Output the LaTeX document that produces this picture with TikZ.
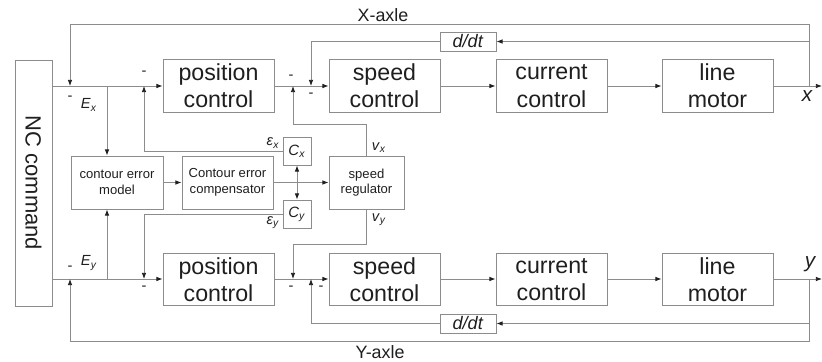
\documentclass[tikz,border=0pt]{standalone}
\usepackage{fontspec}
\setmainfont{Liberation Sans}
\usepackage{tikz}
\usepackage{xcolor}
\definecolor{wire}{gray}{0.55}
\definecolor{ink}{gray}{0.12}
\tikzset{
  every node/.style={
    text=ink
  },
  block/.style={draw=wire, line width=.6pt, inner sep=0pt, align=center,
    minimum width=83.25pt, minimum height=39.4pt,
    font=\fontsize{17.4}{20.5}\selectfont},
  minor/.style={draw=wire, line width=.6pt, inner sep=0pt, align=center,
    minimum height=39.75pt, font=\fontsize{9.8}{11.6}\selectfont},
  gain/.style={draw=wire, line width=.6pt, inner sep=0pt,
    minimum size=21pt, font=\fontsize{11.2}{13}\selectfont},
  ddt/.style={draw=wire, line width=.6pt, inner sep=0pt,
    minimum width=42pt, minimum height=14.25pt, font=\fontsize{13.6}{15}\selectfont},
  lbl/.style={inner sep=0pt, font=\fontsize{11}{13}\selectfont},
  arr/.style={draw=wire, line width=.6pt, -{Latex[length=4.6pt,width=3.4pt,color=ink]}},
  dbl/.style={draw=wire, line width=.6pt, {Latex[length=4.6pt,width=3.4pt,color=ink]}-{Latex[length=4.6pt,width=3.4pt,color=ink]}}
}
\usetikzlibrary{arrows.meta}

\begin{document}
\begin{tikzpicture}[x=0.75pt, y=-0.75pt]
    %\draw[gray, very thin] (0,0) grid[step=20] (822,361);
    \useasboundingbox (0,0) rectangle (822,361);

    \node[draw=wire, line width=.6pt, rotate=-90, minimum width=184.5pt, minimum height=27.75pt,
      inner sep=0pt, font=\fontsize{16.5}{18}\selectfont] (nc) at (33.5,183) {NC command};

    \node[block] (posx) at (218.5,86) {position\\control};
    \node[block] (spdx) at (384.5,86) {speed\\control};
    \node[block] (curx) at (551.5,86) {current\\control};
    \node[block] (motx) at (717.5,86) {line\\motor};
    \node[block] (posy) at (218.5,279.5) {position\\control};
    \node[block] (spdy) at (384.5,279.5) {speed\\control};
    \node[block] (cury) at (551.5,279.5) {current\\control};
    \node[block] (moty) at (717.5,279.5) {line\\motor};

    \node[minor, minimum width=69pt] (model) at (117,182.5) {contour error\\model};
    \node[minor, minimum width=68.25pt] (comp) at (227.5,182.5) {Contour error\\compensator};
    \node[minor, minimum width=56.25pt] (reg) at (366.5,182.5) {speed\\regulator};
    \node[gain] (cx) at (297,151) {\textit{C}\textsubscript{\textit{x}}};
    \node[gain] (cy) at (297,214) {\textit{C}\textsubscript{\textit{y}}};
    \node[ddt] (ddx) at (468,41.5) {\textit{d/dt}};
    \node[ddt] (ddy) at (468,323.5) {\textit{d/dt}};

    \coordinate (sx) at (70,86);
    \coordinate (sy) at (70,279);
    \coordinate (ex) at (107,86);
    \coordinate (ey) at (107,279);
    \coordinate (px) at (144,86);
    \coordinate (py) at (144,279);
    \coordinate (vx) at (293,86);
    \coordinate (vy) at (293,279);
    \coordinate (dx) at (311,86);
    \coordinate (dy) at (311,279);
    \coordinate (fx) at (809,86);
    \coordinate (fy) at (809,279);
    \coordinate (ox) at (822,86);
    \coordinate (oy) at (822,279);
    \coordinate (tx) at (70,24);
    \coordinate (ty) at (70,341);

    % forward paths
    \draw[arr] (nc.north |- posx) -- (posx);
    \draw[arr] (posx) -- (spdx);
    \draw[arr] (spdx) -- (curx);
    \draw[arr] (curx) -- (motx);
    \draw[arr] (motx) -- (ox);
    \draw[arr] (nc.north |- sy) -- (posy.west |- sy);
    \draw[arr] (posy.east |- sy) -- (spdy.west |- sy);
    \draw[arr] (spdy.east |- sy) -- (cury.west |- sy);
    \draw[arr] (cury.east |- sy) -- (moty.west |- sy);
    \draw[arr] (moty.east |- sy) -- (oy);

    % feedback loops
    \draw[arr] (fx) |- (tx) -- (sx);
    \draw[arr] (fy) |- (ty) -- (sy);
    \draw[arr] (fx |- ddx) -- (ddx.east);
    \draw[arr] (ddx.west) -| (dx);
    \draw[arr] (fy |- ddy) -- (ddy.east);
    \draw[arr] (ddy.west) -| (dy);

    % contour error path
    \draw[arr] (ex) -- (ex |- model.north);
    \draw[arr] (ey) -- (ey |- model.south);
    \draw[arr] (model) -- (comp);
    \draw[arr] (comp) -- (reg);
    \draw[dbl] (cx.south) -- (cy.north);
    \draw[arr] (cx.west) -| (px);
    \draw[arr] (cy.west) -| (py);
    \draw[arr] (reg.north) -- ++(0,-31) -| (vx);
    \draw[arr] (reg.south) -- ++(0,35) -| (vy);

    \node[font=\fontsize{13.4}{15}\selectfont, inner sep=0pt] (xaxle) at (383,15) {X-axle};
    \node[font=\fontsize{13.4}{15}\selectfont, inner sep=0pt] (yaxle) at (380,352) {Y-axle};
    \node[font=\fontsize{15.5}{17}\selectfont\itshape, inner sep=0pt] (xout) at (807,96) {x};
    \node[font=\fontsize{15.5}{17}\selectfont\itshape, inner sep=0pt] (yout) at (810,264) {y};

    \node[lbl] (Ex) at (89,105) {\textit{E}\textsubscript{\textit{x}}};
    \node[lbl] (Ey) at (89,263) {\textit{E}\textsubscript{\textit{y}}};
    \node[lbl] (epsx) at (273,143) {\textit{ε}\textsubscript{\textit{x}}};
    \node[lbl] (epsy) at (273,223) {\textit{ε}\textsubscript{\textit{y}}};
    \node[lbl] (vxl) at (379,148) {\textit{v}\textsubscript{\textit{x}}};
    \node[lbl] (vyl) at (379,220) {\textit{v}\textsubscript{\textit{y}}};

    \node[lbl] (m1) at (70,98) {-};
    \node[lbl] (m2) at (144,73) {-};
    \node[lbl] (m3) at (291,77) {-};
    \node[lbl] (m4) at (311,95) {-};
    \node[lbl] (m5) at (70,268) {-};
    \node[lbl] (m6) at (144,288) {-};
    \node[lbl] (m7) at (291,288) {-};
    \node[lbl] (m8) at (321,288) {-};
\end{tikzpicture}
\end{document}
